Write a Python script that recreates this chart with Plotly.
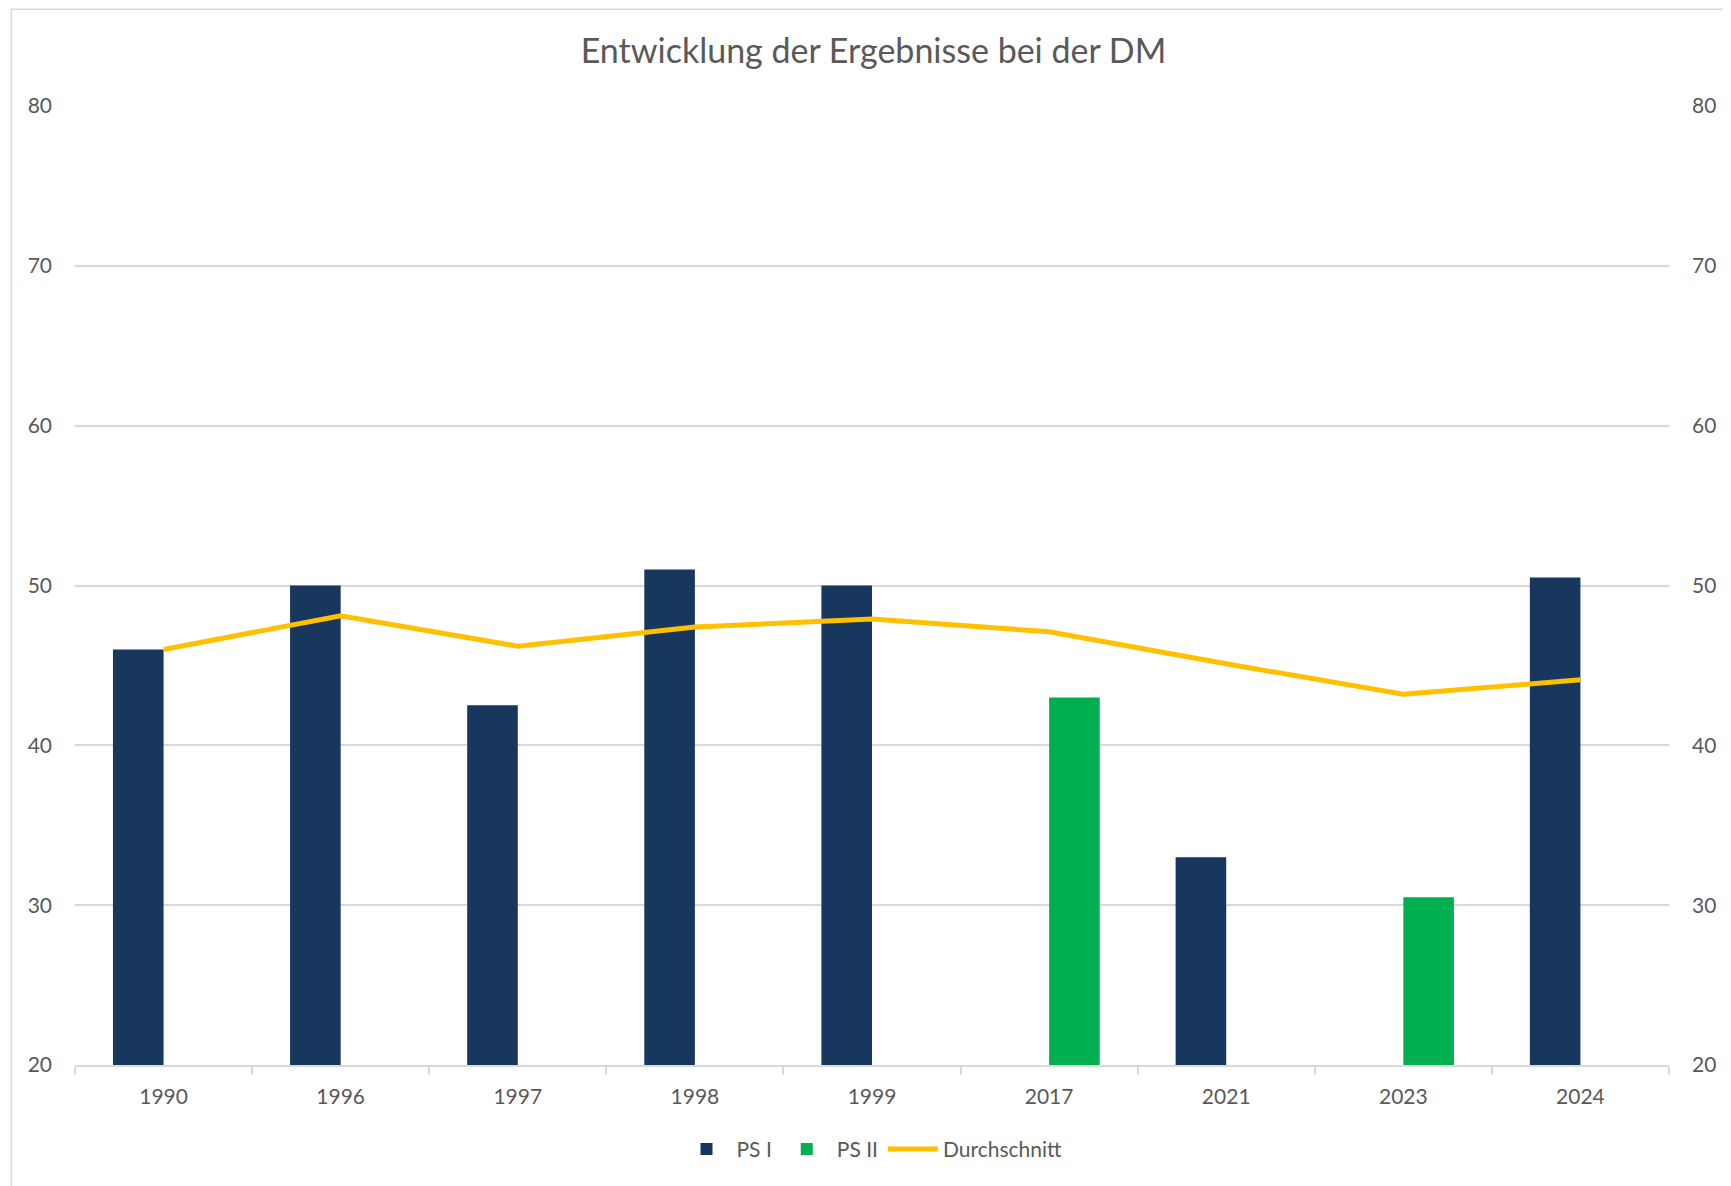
import plotly.graph_objects as go

years = ["1990", "1996", "1997", "1998", "1999", "2017", "2021", "2023", "2024"]
ps1 = [46.0, 50.0, 42.5, 51.0, 50.0, None, 33.0, None, 50.5]
ps2 = [None, None, None, None, None, 43.0, None, 30.5, None]
avg = [46.0, 48.1, 46.2, 47.4, 47.9, 47.1, 45.1, 43.2, 44.1]

FONT = "Lato"
GREY = "#595959"
GRID = "#D9D9D9"

fig = go.Figure()
fig.add_trace(go.Bar(x=years, y=ps1, name="PS I", marker=dict(color="#17375E", line=dict(width=0))))
fig.add_trace(go.Bar(x=years, y=ps2, name="PS II", marker=dict(color="#00B050", line=dict(width=0))))
fig.add_trace(go.Scatter(x=years, y=avg, name="Durchschnitt", mode="lines",
                         line=dict(color="#FFC000", width=5), yaxis="y2"))

fig.update_layout(
    width=1731, height=1186,
    margin=dict(l=67, r=70, t=98, b=129),
    paper_bgcolor="white", plot_bgcolor="white",
    font=dict(family=FONT, color=GREY, size=20),
    title=dict(text="Entwicklung der Ergebnisse bei der DM", x=0.5, xanchor="center",
               y=1 - 43 / 1186, yanchor="middle", font=dict(family=FONT, size=34, color=GREY)),
    barmode="group", bargap=0.4286, bargroupgap=0,
    xaxis=dict(type="category", showline=True, linecolor=GRID, linewidth=1.5,
               ticks="outside", tickson="boundaries", ticklen=8, tickcolor=GRID, tickwidth=1.5,
               ticklabelstandoff=12, showgrid=False, tickfont=dict(size=21, color=GREY)),
    yaxis=dict(range=[20, 80], dtick=10, showgrid=True, gridcolor=GRID, gridwidth=1.5,
               zeroline=False, showline=False, ticks="", ticklabelstandoff=22,
               tickfont=dict(size=21, color=GREY)),
    yaxis2=dict(range=[20, 80], dtick=10, overlaying="y", side="right", showgrid=False,
                zeroline=False, showline=False, ticks="", ticklabelstandoff=22,
                tickfont=dict(size=21, color=GREY)),
    legend=dict(orientation="h", x=0.5, xanchor="center", y=-0.088, yanchor="middle",
                font=dict(size=21, color=GREY), traceorder="normal", itemwidth=50),
    showlegend=True,
)

# chart area border
fig.add_shape(type="rect", xref="paper", yref="paper", x0=-0.040, x1=1.06, y0=-0.2, y1=1.101,
              line=dict(color=GRID, width=1.5), fillcolor="rgba(0,0,0,0)", layer="below")

fig.write_html("out.html")
